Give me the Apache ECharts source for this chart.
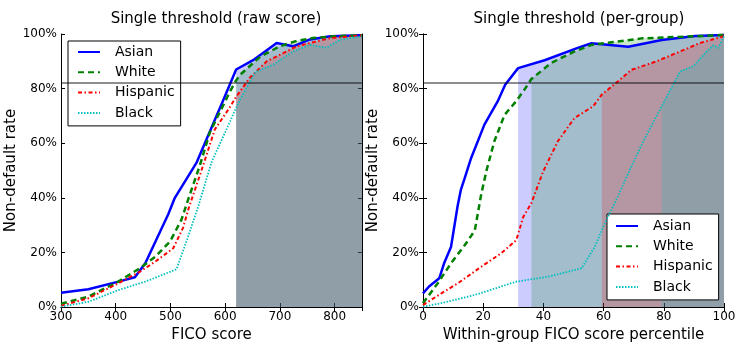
<!DOCTYPE html>
<html>
<head>
<meta charset="utf-8">
<script src="https://cdn.jsdelivr.net/npm/echarts@6/dist/echarts.min.js"></script>
<style>
  html, body { margin: 0; padding: 0; background: #fff; }
  #chart { width: 747px; height: 349px; }
</style>
</head>
<body>
<div id="chart"></div>
<script>
// group names and colours
const groups = ['Asian', 'White', 'Hispanic', 'Black']

// left panel: non-default rate (%) by FICO score
const rawAsian = [[300,5.2],[350,6.5],[405,9.3],[435,10.9],[454,16],[496,34],[508,40],[548,53],[597,76],[620,87],[651,90.4],[694,96.7],[724,95.5],[755,98],[792,99.2],[850,99.5]]
const rawWhite = [[300,1.2],[350,3.8],[404,9.2],[444,14.2],[472,18.4],[499,23.9],[520,31.9],[530,38],[554,52],[572,64],[609,79],[620,83],[627,85],[664,91.7],[700,95.5],[731,97.5],[760,98.5],[800,99.2],[850,99.5]]
const rawHispanic = [[300,0.4],[350,3.2],[405,8.7],[444,12.9],[472,16.6],[505,21.5],[523,29],[533,36],[555,49],[581,65],[609,73.3],[620,77],[645,84],[676,90],[731,95.5],[792,98.5],[850,99.5]]
const rawBlack = [[300,0.1],[350,1.9],[405,6.2],[454,9.3],[511,13.8],[530,24.5],[551,37],[575,53],[609,68],[620,73],[627,76],[655,86],[688,88.8],[724,93.6],[755,96],[785,95],[810,97.9],[850,99.2]]

// right panel: non-default rate (%) by within-group percentile
const pctAsian = [[0,5],[2,7.5],[5.4,10.5],[7,16],[9.3,22],[11.5,37],[12.6,43],[13.8,47],[16,54.6],[20.4,66.8],[24.8,75.3],[27.3,81.4],[31.6,87.5],[40.4,90.4],[51.4,94.9],[56,96.6],[68.2,95.3],[79.3,97.8],[90.4,99.3],[100,99.6]]
const pctWhite = [[0,1.4],[4.9,8.7],[9.3,16],[13.9,22.7],[17.2,28],[19.4,41.6],[21.1,50],[23.7,60.7],[27.1,70.4],[30.9,75.3],[33.7,79.6],[36,83.5],[42.6,89.4],[50.3,93.6],[56,96],[72.6,98.4],[100,99.6]]
const pctHispanic = [[0,0.7],[6.1,5],[11.6,8.7],[19.4,14.8],[26,19.7],[31,24.5],[33.3,33],[36,38],[39.9,49.6],[44.8,60.7],[50.3,69.2],[56.5,73.5],[59.4,77.8],[64.8,82.7],[69.3,86.9],[77.6,90],[85.4,93.6],[92,96.7],[100,99.2]]
const pctBlack = [[0,0.1],[6.1,1.4],[17.2,4.4],[31,9.3],[41.6,11.1],[52.7,14.2],[57.1,22.1],[60.4,30.7],[63.7,38],[68.7,50.2],[73.2,60.7],[79.3,73.5],[83.7,82.7],[85.4,86.3],[89.8,88.2],[94.2,93.6],[96.5,95.9],[98.1,94.9],[100,99.2]]

// thresholds
const rawThreshold = 620
const pctThresholds = [31.6, 36, 59.4, 79.3]
const targetRate = 82

const colors = ['#0000ff', '#008000', '#ff0000', '#00bfbf']
const lineStyles = [
  { width: 2.5, type: 'solid' },
  { width: 2.5, type: [6, 4] },
  { width: 2, type: [4, 2.5, 1.5, 2.5] },
  { width: 1.8, type: [1.5, 1.5] }
]

const font = 'DejaVu Sans'
const chart = echarts.init(document.getElementById('chart'))

function makeAxes(gridIndex, min, max, interval, xName, yName) {
  const tick = { show: true, inside: true, length: 4, lineStyle: { color: '#000' } }
  const line = { show: true, lineStyle: { color: '#000', width: 1 } }
  const label = { color: '#000', fontSize: 12, fontFamily: font }
  return {
    x: [
      {
        gridIndex, type: 'value', min, max, interval, position: 'bottom',
        axisLine: line, axisTick: tick, splitLine: { show: false },
        axisLabel: Object.assign({ margin: 4, showMaxLabel: max % interval === 0 }, label),
        name: xName, nameLocation: 'middle', nameGap: 14,
        nameTextStyle: { color: '#000', fontSize: 15, fontFamily: font }
      },
      {
        gridIndex, type: 'value', min, max, interval, position: 'top',
        axisLine: line, axisTick: tick, splitLine: { show: false }, axisLabel: { show: false }
      }
    ],
    y: [
      {
        gridIndex, type: 'value', min: 0, max: 100, interval: 20, position: 'left',
        axisLine: line, axisTick: tick, splitLine: { show: false },
        axisLabel: Object.assign({ margin: 4, formatter: '{value}%' }, label),
        name: yName, nameLocation: 'middle', nameGap: 34,
        nameTextStyle: { color: '#000', fontSize: 15, fontFamily: font }
      },
      {
        gridIndex, type: 'value', min: 0, max: 100, interval: 20, position: 'right',
        axisLine: line, axisTick: tick, splitLine: { show: false }, axisLabel: { show: false }
      }
    ]
  }
}

const leftAxes = makeAxes(0, 300, 850, 100, 'FICO score', 'Non-default rate')
const rightAxes = makeAxes(1, 0, 100, 20, 'Within-group FICO score percentile', 'Non-default rate')

function panelSeries(datasets, thresholds, xIndex, yIndex) {
  const out = []
  datasets.forEach((data, i) => {
    out.push({
      name: groups[i] + ' fill',
      type: 'line',
      xAxisIndex: xIndex, yAxisIndex: yIndex,
      data: data.filter(d => d[0] >= thresholds[i]),
      symbol: 'none',
      silent: true,
      z: 1,
      lineStyle: { width: 0 },
      itemStyle: { color: colors[i] },
      areaStyle: { color: colors[i], opacity: 0.2 }
    })
  })
  out.push({
    name: 'target',
    type: 'line',
    xAxisIndex: xIndex, yAxisIndex: yIndex,
    data: [],
    z: 3,
    markLine: {
      silent: true,
      symbol: 'none',
      label: { show: false },
      lineStyle: { color: '#000', width: 1.5, type: 'solid', opacity: 0.6 },
      data: [{ yAxis: targetRate }]
    }
  })
  datasets.forEach((data, i) => {
    out.push({
      name: groups[i],
      type: 'line',
      xAxisIndex: xIndex, yAxisIndex: yIndex,
      data: data,
      symbol: 'none',
      z: 4,
      itemStyle: { color: colors[i] },
      lineStyle: Object.assign({ color: colors[i] }, lineStyles[i])
    })
  })
  return out
}

const legendBase = {
  data: groups,
  orient: 'vertical',
  itemWidth: 22,
  itemHeight: 14,
  itemGap: 6.3,
  backgroundColor: '#fff',
  borderColor: '#000',
  borderWidth: 1,
  borderRadius: 0,
  selectedMode: false,
  itemStyle: { opacity: 0 },
  textStyle: { color: '#000', fontSize: 14, fontFamily: font, padding: [0, 0, 0, 10] }
}

const option = {
  animation: false,
  backgroundColor: '#fff',
  title: [
    { text: 'Single threshold (raw score)', left: 211, top: 7, textAlign: 'center',
      textStyle: { fontSize: 15, fontWeight: 'normal', color: '#000', fontFamily: font } },
    { text: 'Single threshold (per-group)', left: 574, top: 7, textAlign: 'center',
      textStyle: { fontSize: 15, fontWeight: 'normal', color: '#000', fontFamily: font } }
  ],
  grid: [
    { left: 61, right: 385, top: 34, bottom: 42 },
    { left: 423, right: 23, top: 34, bottom: 42 }
  ],
  legend: [
    Object.assign({ left: 68, top: 41, padding: [4, 6, 6, 9] }, legendBase),
    Object.assign({ left: 607, top: 214, padding: [5, 6, 6, 8] }, legendBase)
  ],
  xAxis: leftAxes.x.concat(rightAxes.x),
  yAxis: leftAxes.y.concat(rightAxes.y),
  series: panelSeries([rawAsian, rawWhite, rawHispanic, rawBlack], [rawThreshold, rawThreshold, rawThreshold, rawThreshold], 0, 0)
    .concat(panelSeries([pctAsian, pctWhite, pctHispanic, pctBlack], pctThresholds, 2, 2))
}

chart.setOption(option)
</script>
</body>
</html>
